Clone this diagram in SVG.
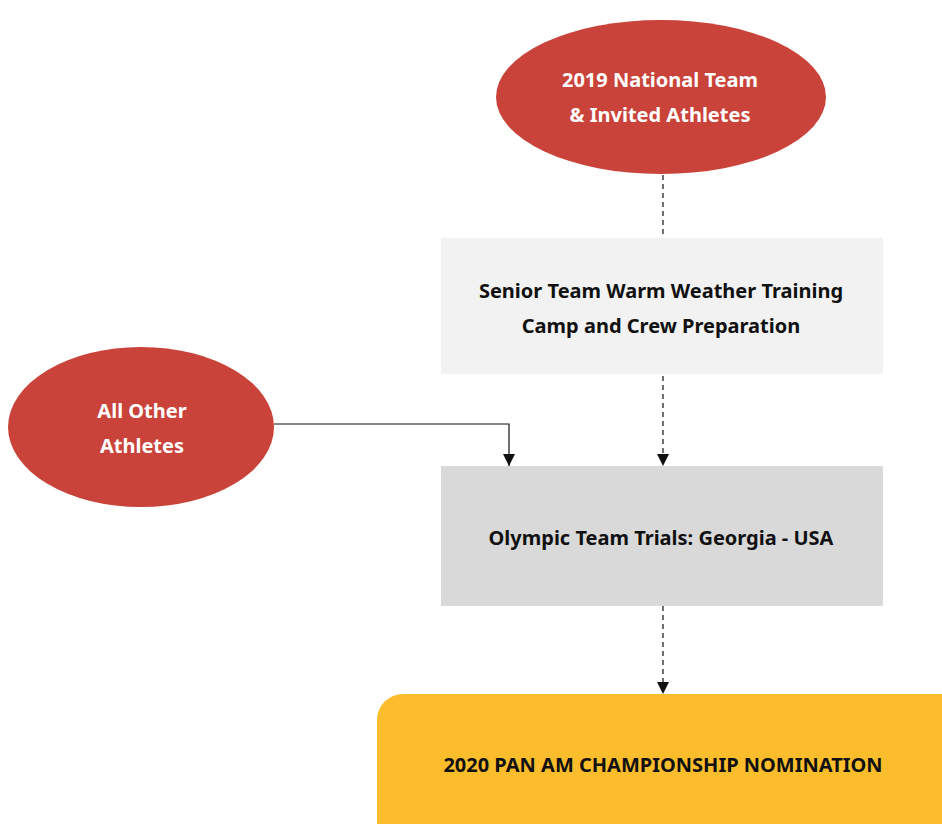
<svg xmlns="http://www.w3.org/2000/svg" width="942" height="824" viewBox="0 0 942 824">
<defs>
<style>
.lbl{font-family:"Noto Sans","Open Sans",sans-serif;font-weight:bold;font-size:20px;text-anchor:middle;letter-spacing:0px}
.w{fill:#ffffff}
.k{fill:#111111}
.red{fill:#c9433a}
.dash{stroke:#111;stroke-width:1.2;fill:none;stroke-dasharray:5,4}
.solid{stroke:#111;stroke-width:1.2;fill:none}
</style>
<marker id="ah" viewBox="0 0 10 10" refX="10" refY="5" markerWidth="12" markerHeight="12" markerUnits="userSpaceOnUse" orient="auto">
<path d="M0,0 L10,5 L0,10 Z" fill="#111"/>
</marker>
</defs>
<rect width="942" height="824" fill="#ffffff"/>
<g id="connectors">
<line class="dash" x1="663" y1="175" x2="663" y2="238"/>
<line class="dash" x1="663" y1="376" x2="663" y2="466" marker-end="url(#ah)"/>
<polyline class="solid" points="274,424 509,424 509,466" marker-end="url(#ah)"/>
<line class="dash" x1="663" y1="606" x2="663" y2="694" marker-end="url(#ah)"/>
</g>
<g id="n1">
<ellipse class="red" cx="661" cy="97" rx="165" ry="77"/>
<text class="lbl w" x="660" y="87">2019 National Team</text>
<text class="lbl w" x="660" y="122">&amp; Invited Athletes</text>
</g>
<g id="n2">
<rect x="441" y="238" width="442" height="136" fill="#f2f2f2"/>
<text class="lbl k" x="661" y="298">Senior Team Warm Weather Training</text>
<text class="lbl k" x="661" y="333">Camp and Crew Preparation</text>
</g>
<g id="n3">
<ellipse class="red" cx="141" cy="427" rx="133" ry="80"/>
<text class="lbl w" x="142" y="418">All Other</text>
<text class="lbl w" x="142" y="453">Athletes</text>
</g>
<g id="n4">
<rect x="441" y="466" width="442" height="140" fill="#d9d9d9"/>
<text class="lbl k" x="661" y="545">Olympic Team Trials: Georgia - USA</text>
</g>
<g id="n5">
<rect x="377" y="694" width="590" height="160" rx="26" fill="#fbbd2c"/>
<text class="lbl k" x="663" y="772">2020 PAN AM CHAMPIONSHIP NOMINATION</text>
</g>
</svg>
